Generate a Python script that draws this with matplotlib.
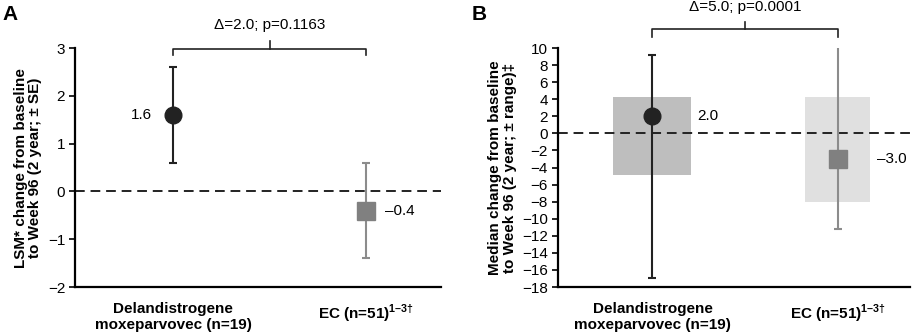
import matplotlib
matplotlib.use("Agg")
import matplotlib.pyplot as plt
import matplotlib.transforms as mtransforms
import numpy as np

plt.rcParams['font.family'] = ['Liberation Sans', 'DejaVu Sans']
plt.rcParams['mathtext.fontset'] = 'custom'
plt.rcParams['mathtext.rm'] = 'Liberation Sans'
plt.rcParams['mathtext.bf'] = 'Liberation Sans:bold'

# --- DATA ---
categories = ["Delandistrogene\nmoxeparvovec (n=19)", r"EC (n=51)$^{\mathbf{1–3†}}$"]

# panel A: LSM change (+/- SE)
lsm_vals = [1.6, -0.4]
lsm_low = [0.6, -1.4]
lsm_high = [2.6, 0.6]
lsm_labels = ["1.6", "–0.4"]
lsm_note = "Δ=2.0; p=0.1163"

# panel B: median change (+/- range), box = IQR
med_vals = [2.0, -3.0]
med_low = [-17.0, -11.2]
med_high = [9.2, 10.3]
iqr_low = [-4.9, -8.0]
iqr_high = [4.25, 4.3]
med_labels = ["2.0", "–3.0"]
med_note = "Δ=5.0; p=0.0001"

# --- STYLE ---
marker_styles = ['o', 's']
marker_sizes = [12, 13]
marker_colors = ['#222222', '#808080']
err_colors = ['#222222', '#8c8c8c']
box_colors = ['#bebebe', '#e0e0e0']
box_widths = [0.42, 0.35]
FS = 11


def style_axes(ax, ylim, yticks, ylabel):
    x = np.arange(len(categories))
    ax.set_xlim(-0.51, 1.39)
    ax.set_ylim(*ylim)
    ax.set_yticks(yticks)
    ax.set_xticks(x)
    ax.set_xticklabels(categories, fontsize=FS, fontweight='bold')
    ax.tick_params(axis='x', length=0, pad=11)
    ax.tick_params(axis='y', length=4, width=1.2, labelsize=FS, pad=3)
    for s in ['top', 'right']:
        ax.spines[s].set_visible(False)
    for s in ['left', 'bottom']:
        ax.spines[s].set_linewidth(1.6)
    ax.axhline(0, color='#222222', lw=1.4, ls=(0, (5, 3)), zorder=1)
    ax.set_ylabel(ylabel, fontsize=FS, fontweight='bold', linespacing=1.05, labelpad=4)


def bracket(ax, y_line, y_end, y_nub, y_text, text):
    tr = mtransforms.blended_transform_factory(ax.transData, ax.transAxes)
    ax.plot([0, 0, 1, 1], [y_end, y_line, y_line, y_end], color='#222222', lw=1.2,
            transform=tr, clip_on=False)
    ax.plot([0.5, 0.5], [y_line, y_nub], color='#222222', lw=1.2,
            transform=tr, clip_on=False)
    ax.text(0.5, y_text, text, transform=tr, ha='center', va='center', fontsize=FS)


fig = plt.figure(figsize=(9.13, 3.36), dpi=100)
axA = fig.add_axes([0.0821, 0.1458, 0.401, 0.711])
axB = fig.add_axes([0.611, 0.1458, 0.386, 0.711])

# --- PANEL A ---
style_axes(axA, (-2, 3), range(-2, 4),
           "LSM* change from baseline\nto Week 96 (2 year; ± SE)")
for i in range(len(categories)):
    axA.errorbar(i, lsm_vals[i],
                 yerr=[[lsm_vals[i] - lsm_low[i]], [lsm_high[i] - lsm_vals[i]]],
                 fmt='none', ecolor=err_colors[i], elinewidth=1.5, capsize=3, capthick=1.5,
                 zorder=2)
    axA.plot(i, lsm_vals[i], marker=marker_styles[i], ms=marker_sizes[i],
             color=marker_colors[i], ls='none', zorder=3)
axA.text(-0.11, lsm_vals[0], lsm_labels[0], ha='right', va='center', fontsize=FS)
axA.text(1.1, lsm_vals[1], lsm_labels[1], ha='left', va='center', fontsize=FS)
bracket(axA, 0.996, 0.971, 1.029, 1.096, lsm_note)
fig.text(0.003, 0.985, "A", fontsize=15, fontweight='bold', va='top', ha='left')

# --- PANEL B ---
style_axes(axB, (-18, 10), range(-18, 11, 2),
           "Median change from baseline\nto Week 96 (2 year; ± range)‡")
for i in range(len(categories)):
    axB.bar(i, iqr_high[i] - iqr_low[i], bottom=iqr_low[i], width=box_widths[i],
            color=box_colors[i], zorder=0)
    axB.errorbar(i, med_vals[i],
                 yerr=[[med_vals[i] - med_low[i]], [med_high[i] - med_vals[i]]],
                 fmt='none', ecolor=err_colors[i], elinewidth=1.5, capsize=3, capthick=1.5,
                 zorder=2)
    axB.plot(i, med_vals[i], marker=marker_styles[i], ms=marker_sizes[i],
             color=marker_colors[i], ls='none', zorder=3)
axB.text(0.24, med_vals[0], med_labels[0], ha='left', va='center', fontsize=FS)
axB.text(1.21, med_vals[1], med_labels[1], ha='left', va='center', fontsize=FS)
bracket(axB, 1.079, 1.046, 1.109, 1.172, med_note)
fig.text(0.517, 0.985, "B", fontsize=15, fontweight='bold', va='top', ha='left')

fig.savefig('out.png', dpi=100)
plt.close(fig)
